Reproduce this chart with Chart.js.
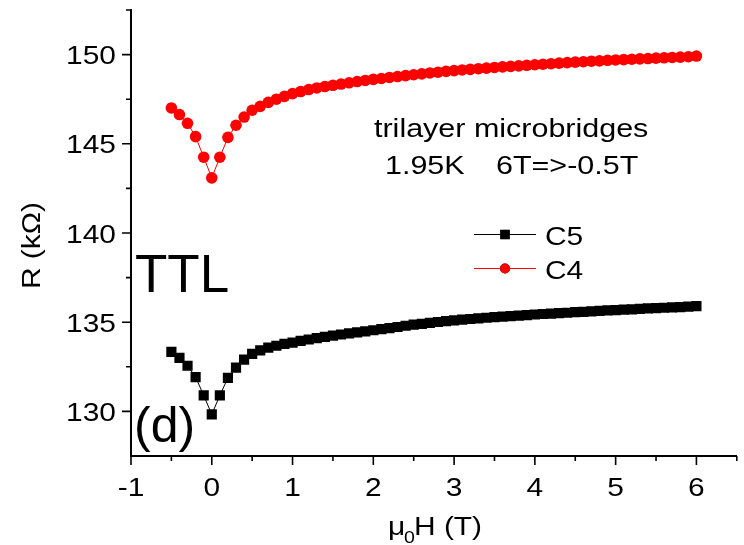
<!DOCTYPE html>
<html>
<head>
<meta charset="utf-8">
<title>Trilayer microbridges R(H)</title>
<script src="https://cdn.jsdelivr.net/npm/chart.js@4.4.1/dist/chart.umd.min.js"></script>
<style>
    html, body { margin: 0; padding: 0; background: #fff; }
    #wrap { width: 744px; height: 545px; }
</style>
</head>
<body>
<div id="wrap"><canvas id="rChart" width="744" height="545"></canvas></div>
<script>
// field sweep, 6T => -0.5T, plotted in field order
const fieldT = [
    -0.5, -0.4, -0.3, -0.2, -0.1, 0.0, 0.1, 0.2, 0.3, 0.4,
    0.5, 0.6, 0.7, 0.8, 0.9, 1.0, 1.1, 1.2, 1.3, 1.4,
    1.5, 1.6, 1.7, 1.8, 1.9, 2.0, 2.1, 2.2, 2.3, 2.4,
    2.5, 2.6, 2.7, 2.8, 2.9, 3.0, 3.1, 3.2, 3.3, 3.4,
    3.5, 3.6, 3.7, 3.8, 3.9, 4.0, 4.1, 4.2, 4.3, 4.4,
    4.5, 4.6, 4.7, 4.8, 4.9, 5.0, 5.1, 5.2, 5.3, 5.4,
    5.5, 5.6, 5.7, 5.8, 5.9, 6.0
];

// resistance in kOhm
const c5Resistance = [
    133.34, 133.00, 132.56, 131.92, 130.90, 129.83, 130.90, 131.88, 132.45, 132.90,
    133.22, 133.42, 133.57, 133.68, 133.78, 133.86, 133.95, 134.03, 134.11, 134.18,
    134.25, 134.31, 134.37, 134.43, 134.49, 134.55, 134.61, 134.67, 134.73, 134.80,
    134.86, 134.91, 134.96, 135.01, 135.06, 135.10, 135.14, 135.18, 135.21, 135.25,
    135.28, 135.31, 135.34, 135.37, 135.40, 135.43, 135.46, 135.48, 135.51, 135.53,
    135.56, 135.58, 135.61, 135.63, 135.66, 135.68, 135.70, 135.72, 135.75, 135.77,
    135.79, 135.81, 135.83, 135.85, 135.87, 135.90
];

const c4Resistance = [
    147.01, 146.64, 146.15, 145.40, 144.25, 143.09, 144.25, 145.36, 146.04, 146.50,
    146.88, 147.10, 147.32, 147.50, 147.66, 147.81, 147.93, 148.04, 148.13, 148.21,
    148.28, 148.35, 148.42, 148.49, 148.55, 148.61, 148.66, 148.72, 148.77, 148.82,
    148.87, 148.92, 148.97, 149.01, 149.06, 149.10, 149.14, 149.17, 149.21, 149.24,
    149.28, 149.31, 149.34, 149.37, 149.40, 149.43, 149.46, 149.49, 149.52, 149.55,
    149.58, 149.60, 149.63, 149.65, 149.68, 149.70, 149.72, 149.74, 149.76, 149.78,
    149.80, 149.82, 149.84, 149.86, 149.88, 149.92
];

const xTicks = [-1, 0, 1, 2, 3, 4, 5, 6];
const xMinorTicks = [-0.5, 0.5, 1.5, 2.5, 3.5, 4.5, 5.5, 6.5];
const yTicks = [130, 135, 140, 145, 150];
const yMinorTicks = [132.5, 137.5, 142.5, 147.5, 152.5];

const FONT = '"Liberation Sans", Arial, sans-serif';
const WIDE = 1.15;   // glyphs in this figure run a bit wider than Arial

/**
 * Draws a string, optionally stretched horizontally (or along its direction when rotated).
 */
function drawText(ctx, text, x, y, size, opts = {}) {
    ctx.save();
    ctx.translate(x, y);
    if (opts.rotate) ctx.rotate(opts.rotate);
    ctx.scale(opts.stretch || 1, 1);
    ctx.font = size + 'px ' + FONT;
    ctx.fillStyle = '#000';
    ctx.textAlign = opts.align || 'left';
    ctx.textBaseline = opts.baseline || 'alphabetic';
    ctx.fillText(text, 0, 0);
    ctx.restore();
}

// Origin-style axes: outward major/minor ticks, labels, titles, legend and notes
const frameDecor = {
    id: 'frameDecor',
    afterDraw(chart) {
        const ctx = chart.ctx;
        const xs = chart.scales.x;
        const ys = chart.scales.y;
        const area = chart.chartArea;

        ctx.save();
        ctx.strokeStyle = '#000';
        ctx.lineWidth = 1.6;
        ctx.beginPath();
        xTicks.forEach(v => {
            const px = xs.getPixelForValue(v);
            ctx.moveTo(px, area.bottom);
            ctx.lineTo(px, area.bottom + 9);
        });
        xMinorTicks.forEach(v => {
            const px = xs.getPixelForValue(v);
            ctx.moveTo(px, area.bottom);
            ctx.lineTo(px, area.bottom + 5);
        });
        yTicks.forEach(v => {
            const py = ys.getPixelForValue(v);
            ctx.moveTo(area.left, py);
            ctx.lineTo(area.left - 9, py);
        });
        yMinorTicks.forEach(v => {
            const py = ys.getPixelForValue(v);
            ctx.moveTo(area.left, py);
            ctx.lineTo(area.left - 5, py);
        });
        ctx.stroke();
        ctx.restore();

        xTicks.forEach(v => {
            drawText(ctx, String(v), xs.getPixelForValue(v), area.bottom + 40, 26,
                { align: 'center', stretch: WIDE });
        });
        yTicks.forEach(v => {
            drawText(ctx, String(v), area.left - 15, ys.getPixelForValue(v) + 9.5, 26,
                { align: 'right', stretch: WIDE });
        });

        // axis titles
        drawText(ctx, 'R (k\u03A9)', 39.5, 245.5, 26,
            { align: 'center', rotate: -Math.PI / 2, stretch: WIDE });
        drawText(ctx, '\u03BC', 388, 535, 26, { stretch: WIDE });
        drawText(ctx, '0', 404, 543, 17, { stretch: WIDE });
        drawText(ctx, 'H (T)', 414, 535, 26, { stretch: WIDE });

        // legend: line sample with a single marker in the middle
        const legendRows = [
            { label: 'C5', ds: chart.data.datasets[0], y: 234.5, r: 6.6 },
            { label: 'C4', ds: chart.data.datasets[1], y: 268.5, r: 5 }
        ];
        legendRows.forEach(row => {
            ctx.save();
            ctx.strokeStyle = row.ds.borderColor;
            ctx.lineWidth = 1;
            ctx.beginPath();
            ctx.moveTo(474, row.y);
            ctx.lineTo(536, row.y);
            ctx.stroke();
            Chart.helpers.drawPoint(ctx, {
                pointStyle: row.ds.pointStyle,
                radius: row.r,
                borderWidth: 0
            }, 505, row.y);
            ctx.fillStyle = row.ds.pointBackgroundColor;
            ctx.fill();
            ctx.restore();
            drawText(ctx, row.label, 545, row.y + 10, 26, { stretch: WIDE });
        });

        // sample notes
        drawText(ctx, 'trilayer microbridges', 374, 137, 26.5, { stretch: WIDE });
        drawText(ctx, '1.95K', 385, 174, 26.5, { stretch: WIDE });
        drawText(ctx, '6T=>-0.5T', 496, 174, 26.5, { stretch: WIDE });
        drawText(ctx, 'TTL', 135, 291.5, 53);
        drawText(ctx, '(d)', 134, 441.5, 50);
    }
};

const ctx = document.getElementById('rChart').getContext('2d');

new Chart(ctx, {
    type: 'line',
    data: {
        datasets: [{
            label: 'C5',
            data: fieldT.map((h, i) => ({ x: h, y: c5Resistance[i] })),
            borderColor: '#000000',
            backgroundColor: '#000000',
            borderWidth: 1,
            pointStyle: 'rect',
            pointRadius: 7.2,
            pointBorderWidth: 0,
            pointBackgroundColor: '#000000',
            tension: 0
        }, {
            label: 'C4',
            data: fieldT.map((h, i) => ({ x: h, y: c4Resistance[i] })),
            borderColor: '#ff0000',
            backgroundColor: '#ff0000',
            borderWidth: 1,
            pointStyle: 'circle',
            pointRadius: 5.8,
            pointBorderWidth: 0,
            pointBackgroundColor: '#ff0000',
            tension: 0
        }]
    },
    options: {
        responsive: false,
        animation: false,
        layout: {
            padding: { top: 10, right: 4, left: 0, bottom: 0 }
        },
        scales: {
            x: {
                type: 'linear',
                min: -1,
                max: 6.5,
                grid: { display: false },
                border: { display: true, color: '#000', width: 2 },
                ticks: { display: false },
                afterFit: scale => { scale.height = 89; }
            },
            y: {
                min: 127.5,
                max: 152.5,
                grid: { display: false },
                border: { display: true, color: '#000', width: 2 },
                ticks: { display: false },
                afterFit: scale => { scale.width = 131; }
            }
        },
        plugins: {
            legend: { display: false },
            tooltip: { enabled: false }
        }
    },
    plugins: [frameDecor]
});
</script>
</body>
</html>
